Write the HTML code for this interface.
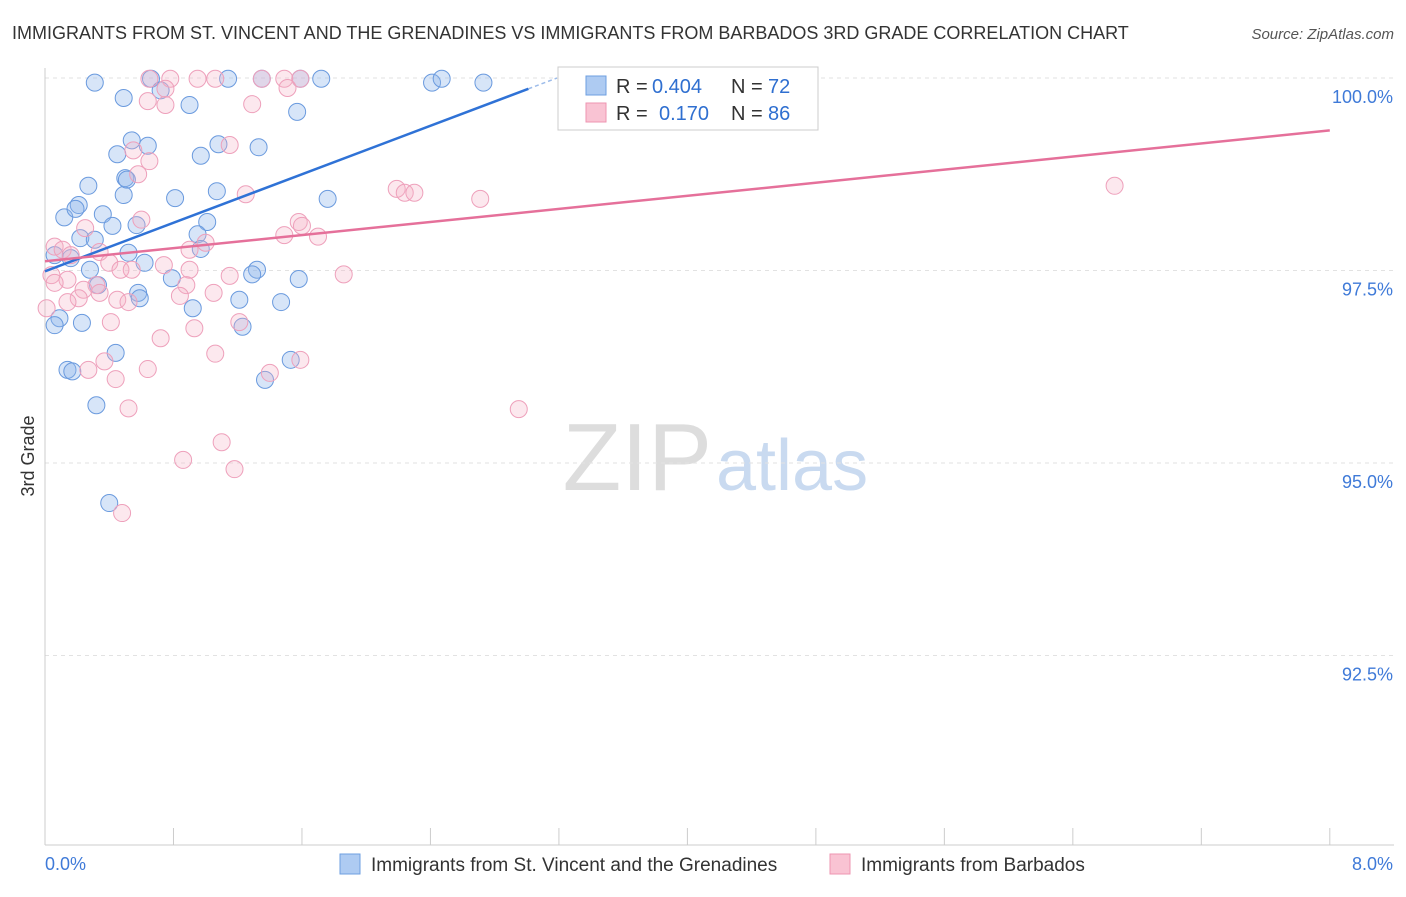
<!DOCTYPE html>
<html><head><meta charset="utf-8"><style>
body{margin:0;background:#fff;font-family:"Liberation Sans",sans-serif;}
svg text{font-family:"Liberation Sans",sans-serif;}
</style></head><body>
<svg id="chart" width="1406" height="892" xmlns="http://www.w3.org/2000/svg">
<text x="12" y="39" font-size="18" fill="#333">IMMIGRANTS FROM ST. VINCENT AND THE GRENADINES VS IMMIGRANTS FROM BARBADOS 3RD GRADE CORRELATION CHART</text>
<text x="1394" y="39" font-size="15" fill="#555" font-style="italic" text-anchor="end">Source: ZipAtlas.com</text>
<text x="712" y="490" font-size="96" fill="#ddd" text-anchor="end" font-family="Liberation Serif">ZIP</text>
<text x="716" y="490" font-size="72" fill="#c9daf0">atlas</text>
<text x="34" y="456" font-size="18" fill="#333" transform="rotate(-90 34 456)" text-anchor="middle">3rd Grade</text>
<g id="grid"></g><g id="axes"></g><g id="pts"></g><g id="trend"></g>
<g>
<rect x="558" y="67" width="260" height="63" fill="#fff" stroke="#ccc"/>
<rect x="586" y="76" width="20" height="19" fill="#aecbf2" stroke="#6e9fe0"/>
<rect x="586" y="103" width="20" height="19" fill="#f9c3d3" stroke="#ee95b2"/>
<text y="93" font-size="20" fill="#333"><tspan x="616">R =</tspan><tspan x="652" fill="#2f6fd0">0.404</tspan><tspan x="731">N =</tspan><tspan x="768" fill="#2f6fd0">72</tspan></text>
<text y="120" font-size="20" fill="#333"><tspan x="616">R =</tspan><tspan x="659" fill="#2f6fd0">0.170</tspan><tspan x="731">N =</tspan><tspan x="768" fill="#2f6fd0">86</tspan></text>
</g>
<g>
<rect x="340" y="854" width="20" height="20" fill="#aecbf2" stroke="#6e9fe0"/>
<text x="371" y="871" font-size="19" fill="#333">Immigrants from St. Vincent and the Grenadines</text>
<rect x="830" y="854" width="20" height="20" fill="#f9c3d3" stroke="#ee95b2"/>
<text x="861" y="871" font-size="19" fill="#333">Immigrants from Barbados</text>
</g>
</svg>
<script>
const xTickLabels=["0.0%","8.0%"];
const yTicks=[100,97.5,95,92.5];
const yTickLabels=["100.0%","97.5%","95.0%","92.5%"];
const blueX=[0.31,0.66,1.14,1.35,1.59,1.72,2.41,2.47,2.73,0.49,0.72,0.90,1.57,0.54,0.64,0.45,0.97,1.08,1.33,0.50,0.27,1.07,0.81,1.76,0.49,0.21,0.12,0.19,0.36,1.01,0.42,0.57,0.22,0.31,0.95,0.06,0.16,0.52,0.62,0.97,0.28,0.79,1.32,1.29,1.58,0.33,0.58,0.59,1.21,1.47,0.92,0.09,0.23,0.06,1.23,0.44,0.14,0.17,1.53,1.37,0.32,0.40,0.51];
const blueY=[99.94,99.99,99.99,99.99,99.99,99.99,99.94,99.99,99.94,99.74,99.84,99.65,99.56,99.19,99.12,99.01,98.99,99.14,99.10,98.70,98.60,98.53,98.44,98.43,98.48,98.35,98.19,98.30,98.23,98.13,98.08,98.09,97.92,97.90,97.97,97.70,97.66,97.73,97.60,97.78,97.51,97.40,97.51,97.45,97.39,97.31,97.21,97.14,97.12,97.09,97.01,96.88,96.82,96.79,96.77,96.43,96.21,96.19,96.34,96.08,95.75,94.48,98.68];
const pinkX=[0.65,0.78,0.95,1.06,1.35,1.49,1.59,0.75,1.51,0.64,0.75,1.29,1.15,0.55,0.65,0.58,1.25,2.19,2.24,2.30,2.71,6.66,0.60,0.25,1.58,1.60,1.49,1.70,1.00,0.90,0.06,0.11,0.16,0.34,0.40,0.74,0.90,0.47,0.54,1.15,1.86,0.04,0.14,0.32,0.88,0.24,0.34,0.84,1.05,0.21,0.45,0.52,0.14,1.21,0.41,0.93,0.72,1.06,0.37,0.64,0.27,0.44,1.40,1.59,0.52,2.95,1.10,0.86,1.18,0.48,0.06,0.01];
const pinkY=[99.99,99.99,99.99,99.99,99.99,99.99,99.99,99.86,99.87,99.70,99.65,99.66,99.13,99.06,98.92,98.75,98.49,98.56,98.51,98.51,98.43,98.60,98.16,98.05,98.13,98.08,97.96,97.94,97.86,97.77,97.81,97.77,97.70,97.74,97.60,97.57,97.51,97.51,97.51,97.43,97.45,97.44,97.38,97.31,97.31,97.25,97.21,97.17,97.21,97.14,97.12,97.09,97.09,96.83,96.83,96.75,96.62,96.42,96.32,96.22,96.21,96.09,96.17,96.34,95.71,95.70,95.27,95.04,94.92,94.35,97.34,97.01];
const blueTrend=[97.49,99.86,3.01];
const pinkTrend=[97.62,99.32];
const NS="http://www.w3.org/2000/svg";
const X=v=>45+v*160.6, Y=v=>78+(100-v)*77;
function mk(tag,attrs,parent){const e=document.createElementNS(NS,tag);for(const k in attrs)e.setAttribute(k,attrs[k]);document.getElementById(parent).appendChild(e);return e;}
yTicks.forEach((t,i)=>{
 const l=mk('line',{x1:45,x2:1394,y1:Y(t),y2:Y(t),stroke:'#e2e2e2','stroke-dasharray':'4 4'},'grid');
 
 
 const tx=mk('text',{x:1393,y:Y(t)+25,'font-size':18,fill:'#3f7ad8','text-anchor':'end'},'grid');
 tx.textContent=yTickLabels[i];
 
 
});
const ax=mk('line',{x1:45,x2:45,y1:68,y2:845,stroke:'#ccc'},'axes');


const bx=mk('line',{x1:45,x2:1394,y1:845,y2:845,stroke:'#ccc'},'axes');


for(let i=0;i<=10;i++){const t=mk('line',{x1:X(i*0.8),x2:X(i*0.8),y1:828,y2:845,stroke:'#ccc'},'axes');
 
 }
[[0,'start',45],[8,'end',1393]].forEach(([v,a,px],i)=>{const t=mk('text',{x:px,y:870,'font-size':18,fill:'#3f7ad8','text-anchor':a},'axes');t.textContent=xTickLabels[i];
 
 });
blueX.forEach((x,i)=>{const c=mk('circle',{cx:X(x),cy:Y(blueY[i]),r:8.5,fill:'rgba(140,180,235,0.35)',stroke:'#6a9ade','stroke-width':1},'pts');
 
 });
pinkX.forEach((x,i)=>{const c=mk('circle',{cx:X(x),cy:Y(pinkY[i]),r:8.5,fill:'rgba(245,180,200,0.3)',stroke:'#eea0bb','stroke-width':1},'pts');
 
 });
const bslope=(blueTrend[1]-blueTrend[0])/blueTrend[2];
const b1=mk('line',{x1:X(0),y1:Y(blueTrend[0]),x2:X(blueTrend[2]),y2:Y(blueTrend[1]),stroke:'#2f72d6','stroke-width':2.5},'trend');


const xe=(100-blueTrend[0])/bslope;
const b2=mk('line',{x1:X(blueTrend[2]),y1:Y(blueTrend[1]),x2:X(xe),y2:Y(100),stroke:'#9dbcea','stroke-width':1.5,'stroke-dasharray':'4 3'},'trend');


const p1=mk('line',{x1:X(0),y1:Y(pinkTrend[0]),x2:X(8),y2:Y(pinkTrend[1]),stroke:'#e5709a','stroke-width':2.5},'trend');


</script>
</body></html>
